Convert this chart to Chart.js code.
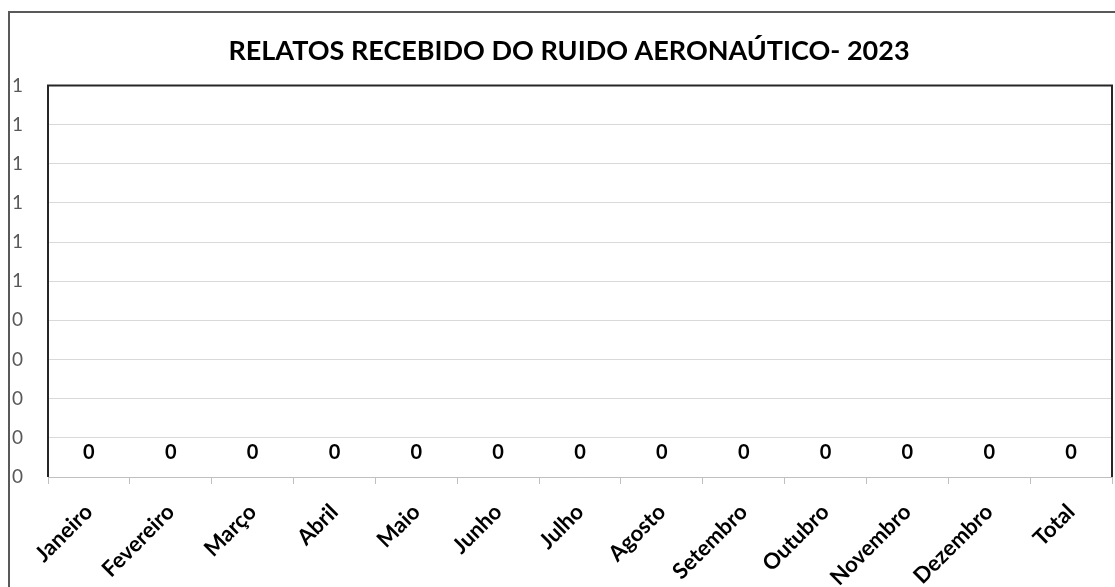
<!DOCTYPE html>
<html>
<head>
<meta charset="utf-8">
<script src="https://cdn.jsdelivr.net/npm/chart.js@4.4.1/dist/chart.umd.min.js"></script>
<style>
html,body{margin:0;padding:0;background:#fff;overflow:hidden;}
#wrap{position:absolute;left:0;top:0;width:1115px;height:587px;}
</style>
</head>
<body>
<div id="wrap"><canvas id="c" width="1115" height="587"></canvas></div>
<script>
const chartTitle = 'RELATOS RECEBIDO DO RUIDO AERONAÚTICO- 2023';
const categories = ['Janeiro','Fevereiro','Março','Abril','Maio','Junho','Julho','Agosto','Setembro','Outubro','Novembro','Dezembro','Total'];
const relatos = [0,0,0,0,0,0,0,0,0,0,0,0,0];
const yTickLabels = ['0','0','0','0','0','1','1','1','1','1','1'];

const FONT = 'Lato, Calibri, Carlito, sans-serif';

const frame = {
  id: 'frame',
  beforeDraw(chart) {
    const ctx = chart.ctx;
    ctx.save();
    ctx.fillStyle = '#ffffff';
    ctx.fillRect(0, 0, chart.width, chart.height);
    ctx.restore();
  },
  afterDraw(chart) {
    const ctx = chart.ctx;
    const a = chart.chartArea;
    ctx.save();
    ctx.strokeStyle = '#595959';
    ctx.lineWidth = 2;
    ctx.strokeRect(9, 12, chart.width + 20, chart.height + 20);
    ctx.strokeStyle = '#262626';
    ctx.lineWidth = 2;
    ctx.beginPath();
    ctx.moveTo(a.left, a.bottom);
    ctx.lineTo(a.left, a.top);
    ctx.lineTo(a.right, a.top);
    ctx.lineTo(a.right, a.bottom);
    ctx.stroke();
    ctx.restore();
  }
};

const valueLabels = {
  id: 'valueLabels',
  afterDatasetsDraw(chart) {
    const ctx = chart.ctx;
    const meta = chart.getDatasetMeta(0);
    const data = chart.data.datasets[0].data;
    ctx.save();
    ctx.font = 'bold 20px ' + FONT;
    ctx.fillStyle = '#000000';
    ctx.textAlign = 'center';
    ctx.textBaseline = 'middle';
    meta.data.forEach((bar, i) => {
      ctx.fillText(String(data[i]), bar.x, bar.y - 24);
    });
    ctx.restore();
  }
};

new Chart(document.getElementById('c'), {
  type: 'bar',
  data: {
    labels: categories,
    datasets: [{
      label: 'Relatos',
      data: relatos,
      backgroundColor: '#4472c4',
      borderWidth: 0
    }]
  },
  options: {
    responsive: false,
    animation: false,
    devicePixelRatio: 1,
    layout: { padding: { left: 26, right: 3, top: 0, bottom: 0 } },
    plugins: {
      legend: { display: false },
      tooltip: { enabled: false },
      title: {
        display: true,
        text: chartTitle,
        color: '#000000',
        font: { family: FONT, size: 27, weight: 'bold', lineHeight: 1.2 },
        padding: { top: 35, bottom: 18 }
      }
    },
    scales: {
      x: {
        offset: true,
        grid: {
          display: true,
          offset: true,
          drawOnChartArea: false,
          drawTicks: true,
          tickLength: 7,
          color: '#bfbfbf',
          lineWidth: 1
        },
        border: { display: true, color: '#bfbfbf', width: 1 },
        ticks: {
          color: '#000000',
          font: { family: FONT, size: 22, weight: 'bold' },
          maxRotation: 45,
          minRotation: 45,
          autoSkip: false,
          padding: 15
        },
        afterFit(s) { s.height = 110; }
      },
      y: {
        min: 0,
        max: 1,
        ticks: {
          stepSize: 0.1,
          color: '#595959',
          font: { family: FONT, size: 19 },
          mirror: true,
          crossAlign: 'near',
          padding: -36,
          callback: (v, i) => yTickLabels[i]
        },
        grid: { color: '#d9d9d9', lineWidth: 1, drawTicks: false },
        border: { display: false },
        afterFit(s) { s.width = 22; }
      }
    }
  },
  plugins: [frame, valueLabels]
});
</script>
</body>
</html>
